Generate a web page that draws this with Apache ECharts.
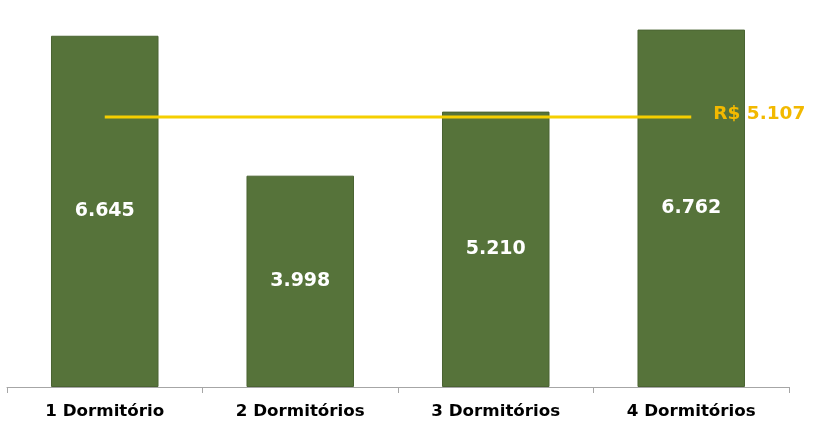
<!DOCTYPE html>
<html><head><meta charset="utf-8">
<script src="https://cdn.jsdelivr.net/npm/echarts@6/dist/echarts.min.js"></script>
<style>html,body{margin:0;padding:0;background:#fff}#c{width:830px;height:430px}</style>
</head><body><div id="c"></div>
<script>
var categories = ['1 Dormitório', '2 Dormitórios', '3 Dormitórios', '4 Dormitórios'];
var values = [6645, 3998, 5210, 6762];
var averageValue = 5107;
var averageLabel = 'R$ 5.107';

function fmt(v){ return String(v).replace(/\B(?=(\d{3})+(?!\d))/g, '.'); }

var chart = echarts.init(document.getElementById('c'));
chart.setOption({
  animation: false,
  grid: {left: 7, right: 41, top: 17, bottom: 43},
  xAxis: {
    type: 'category', data: categories,
    axisLine: {lineStyle: {color: '#a6a6a6', width: 1}},
    axisTick: {show: true, length: 6, lineStyle: {color: '#a6a6a6'}},
    axisLabel: {color: '#000', fontFamily: 'DejaVu Sans', fontWeight: 'bold', fontSize: 16.7, margin: 16}
  },
  yAxis: {type: 'value', min: 0, max: 7000, show: false, splitLine: {show: false}},
  series: [
    {
      type: 'bar', data: values, barWidth: '55%',
      itemStyle: {color: '#56733a', borderColor: '#4a6432', borderWidth: 1},
      label: {show: true, position: 'inside', color: '#fff', fontFamily: 'DejaVu Sans', fontWeight: 'bold', fontSize: 19,
        formatter: function(p){ return fmt(p.value); }}
    },
    {
      type: 'line', data: categories.map(function(){ return averageValue; }),
      symbol: 'none', lineStyle: {color: '#f5cf00', width: 3},
      z: 5,
      endLabel: {show: true, formatter: averageLabel, color: '#f2b900', fontFamily: 'DejaVu Sans', fontWeight: 'bold', fontSize: 18.5, distance: 22, offset: [0, -3]}
    }
  ]
});
</script></body></html>
